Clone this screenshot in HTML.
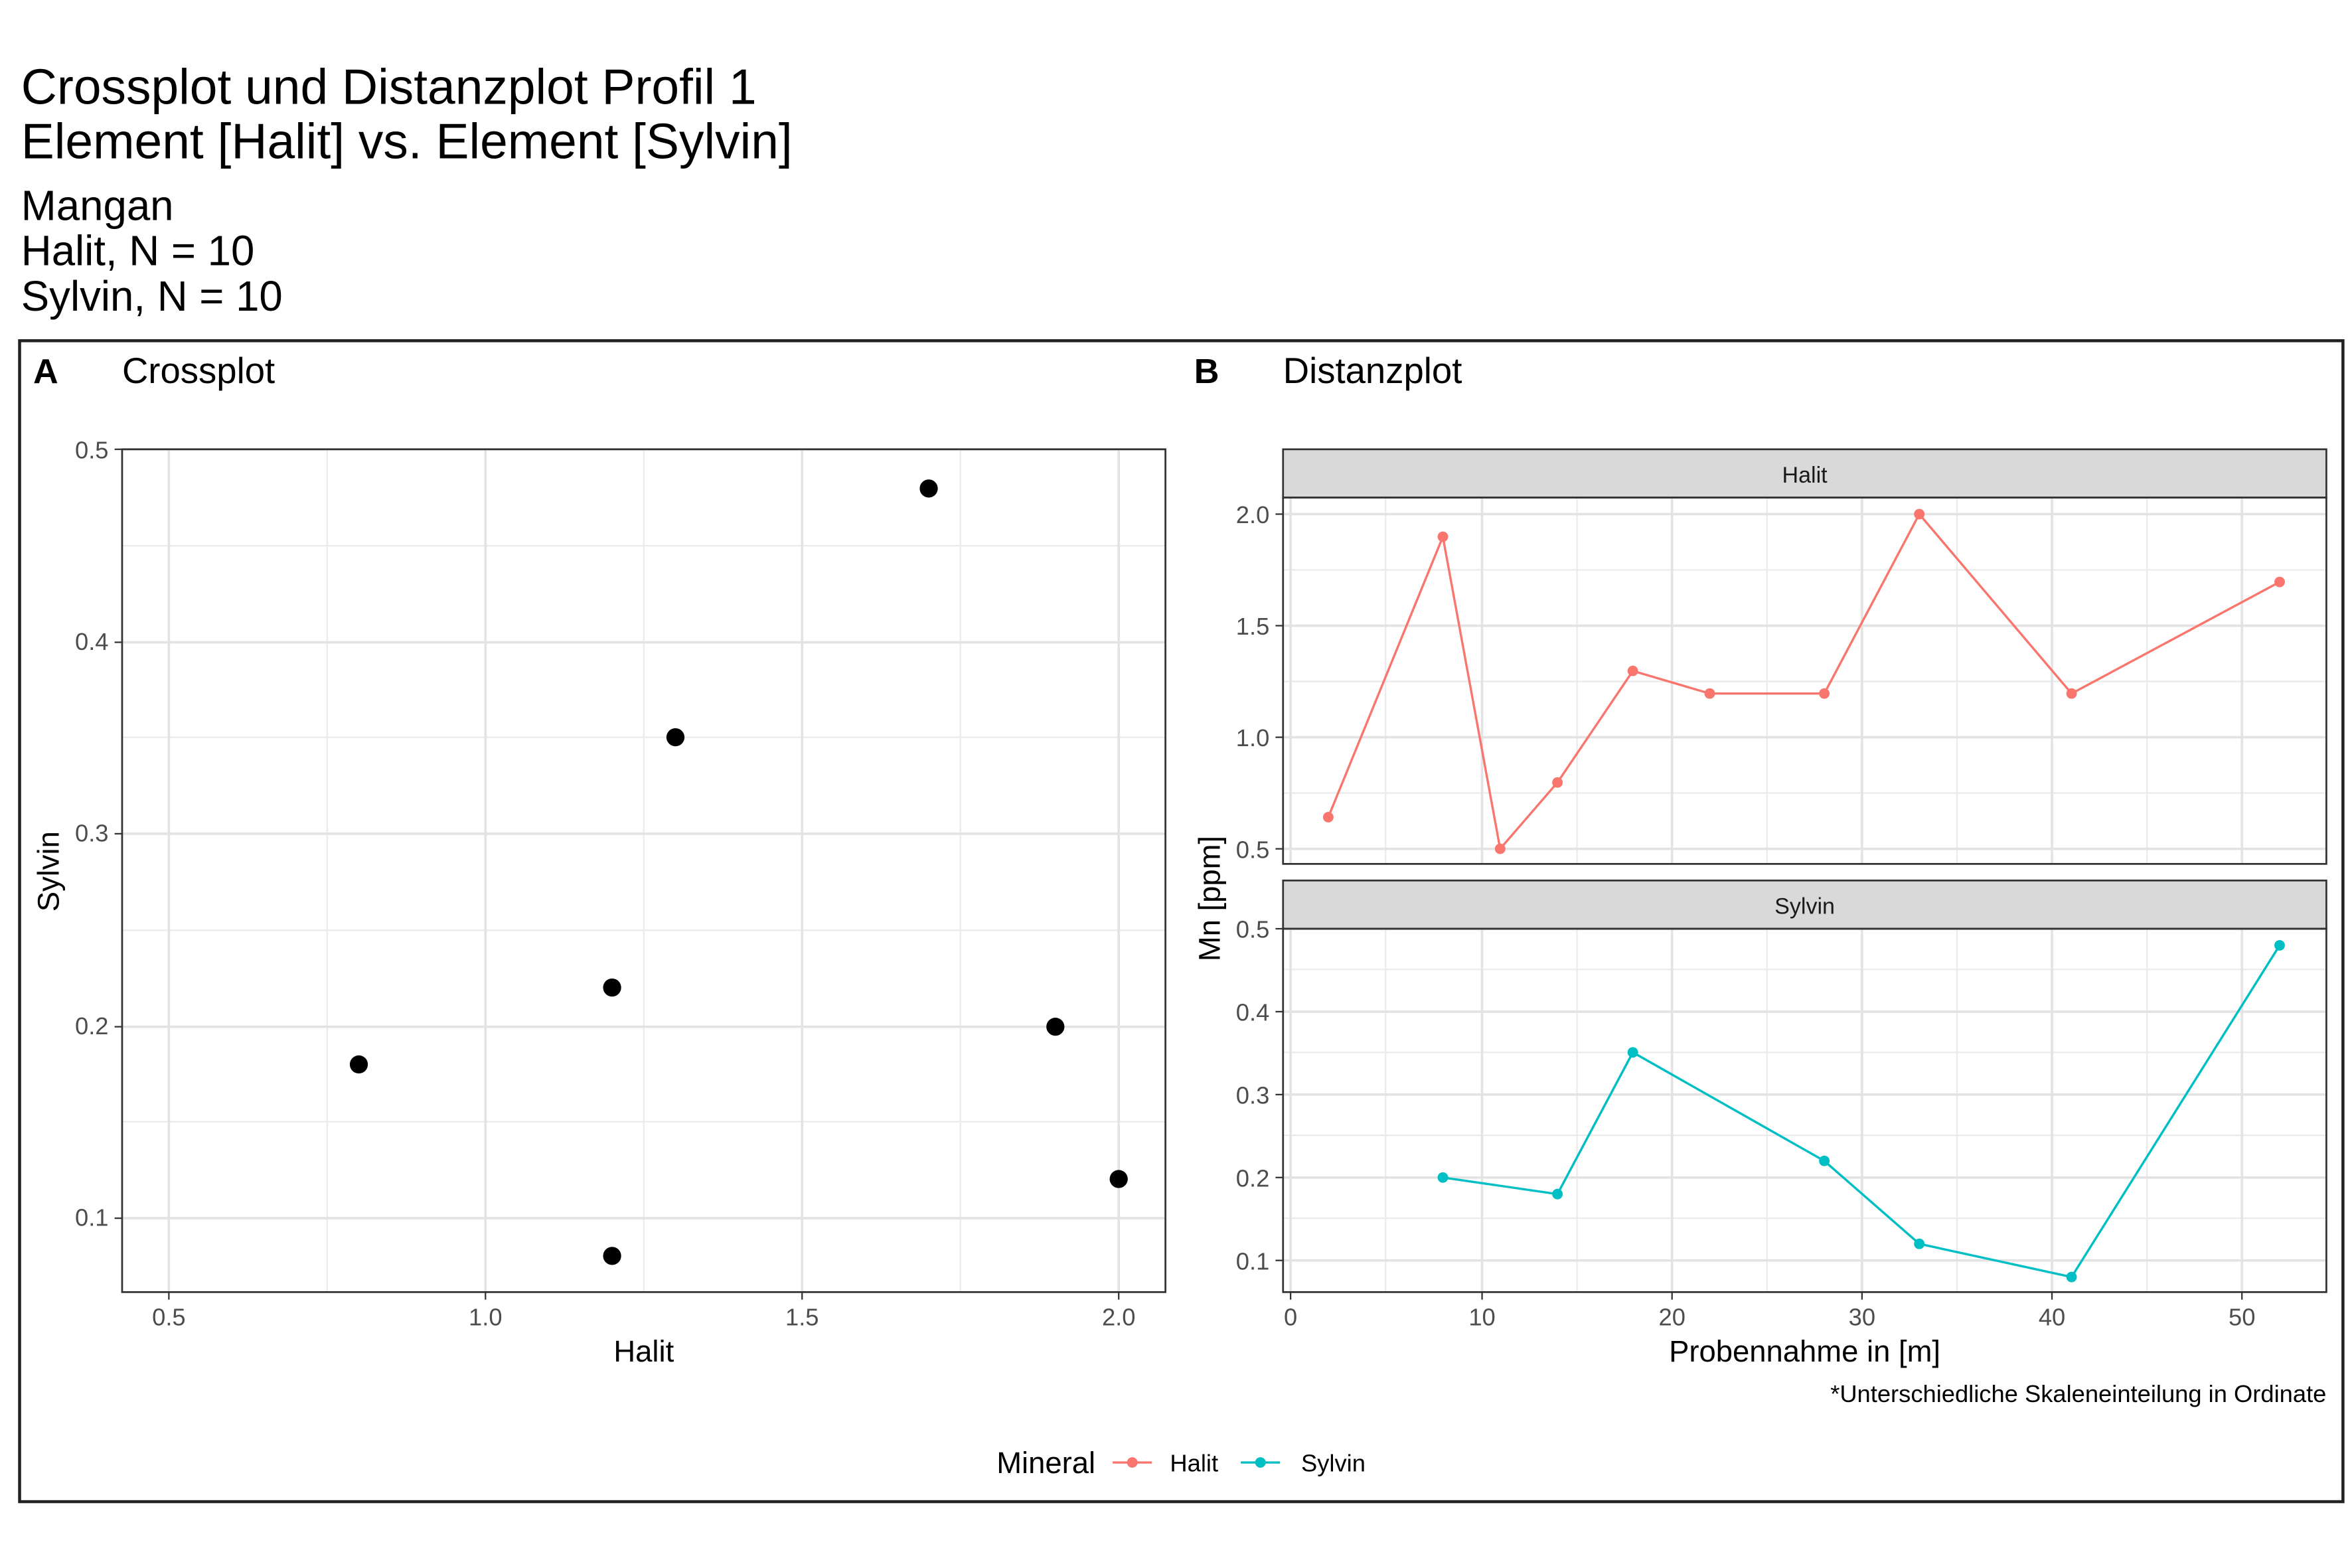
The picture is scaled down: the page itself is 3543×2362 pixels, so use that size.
<!DOCTYPE html>
<html><head><meta charset="utf-8"><style>html,body{margin:0;padding:0;background:#fff}svg{display:block}</style></head>
<body>
<svg xmlns="http://www.w3.org/2000/svg" width="3543" height="2362" viewBox="0 0 1560 1040" font-family="Liberation Sans, sans-serif">
<rect width="1560" height="1040" fill="#fff"/>
<text x="14" y="69" font-size="33">Crossplot und Distanzplot Profil 1</text>
<text x="14" y="105" font-size="33">Element [Halit] vs. Element [Sylvin]</text>
<text x="14" y="146" font-size="28">Mangan</text>
<text x="14" y="176" font-size="28">Halit, N = 10</text>
<text x="14" y="206" font-size="28">Sylvin, N = 10</text>
<rect x="13" y="226" width="1541" height="770" fill="none" stroke="#222" stroke-width="2"/>
<text x="22" y="254" font-size="23" font-weight="bold">A</text>
<text x="81" y="254" font-size="24">Crossplot</text>
<text x="792" y="254" font-size="23" font-weight="bold">B</text>
<text x="851" y="254" font-size="24">Distanzplot</text>
<!-- Crossplot -->
<g stroke="#ebebeb" stroke-width="1">
<line x1="217" y1="298" x2="217" y2="857"/><line x1="427" y1="298" x2="427" y2="857"/><line x1="637" y1="298" x2="637" y2="857"/>
<line x1="81" y1="362" x2="773" y2="362"/><line x1="81" y1="489" x2="773" y2="489"/><line x1="81" y1="617" x2="773" y2="617"/><line x1="81" y1="744" x2="773" y2="744"/>
</g>
<g stroke="#e3e3e3" stroke-width="1.6">
<line x1="112" y1="298" x2="112" y2="857"/><line x1="322" y1="298" x2="322" y2="857"/><line x1="532" y1="298" x2="532" y2="857"/><line x1="742" y1="298" x2="742" y2="857"/>
<line x1="81" y1="298" x2="773" y2="298"/><line x1="81" y1="426" x2="773" y2="426"/><line x1="81" y1="553" x2="773" y2="553"/><line x1="81" y1="681" x2="773" y2="681"/><line x1="81" y1="808" x2="773" y2="808"/>
</g>
<rect x="81" y="298" width="692" height="559" fill="none" stroke="#333" stroke-width="1.2"/>
<g fill="#000">
<circle cx="238" cy="706" r="6"/><circle cx="406" cy="655" r="6"/><circle cx="406" cy="833" r="6"/><circle cx="448" cy="489" r="6"/><circle cx="616" cy="324" r="6"/><circle cx="700" cy="681" r="6"/><circle cx="742" cy="782" r="6"/>
</g>
<g font-size="16" fill="#4d4d4d" text-anchor="end">
<text x="72" y="304">0.5</text><text x="72" y="431">0.4</text><text x="72" y="558">0.3</text><text x="72" y="686">0.2</text><text x="72" y="813">0.1</text>
</g>
<g stroke="#333"><line x1="76" y1="298" x2="81" y2="298"/><line x1="76" y1="426" x2="81" y2="426"/><line x1="76" y1="553" x2="81" y2="553"/><line x1="76" y1="681" x2="81" y2="681"/><line x1="76" y1="808" x2="81" y2="808"/>
<line x1="112" y1="857" x2="112" y2="862"/><line x1="322" y1="857" x2="322" y2="862"/><line x1="532" y1="857" x2="532" y2="862"/><line x1="742" y1="857" x2="742" y2="862"/></g>
<g font-size="16" fill="#4d4d4d" text-anchor="middle">
<text x="112" y="879">0.5</text><text x="322" y="879">1.0</text><text x="532" y="879">1.5</text><text x="742" y="879">2.0</text>
</g>
<text x="427" y="903" font-size="20" text-anchor="middle">Halit</text>
<text transform="translate(39,578) rotate(-90)" font-size="20" text-anchor="middle">Sylvin</text>
<!-- Distanzplot -->
<g stroke="#ebebeb" stroke-width="1">
<line x1="919" y1="330" x2="919" y2="573"/><line x1="1046" y1="330" x2="1046" y2="573"/><line x1="1172" y1="330" x2="1172" y2="573"/><line x1="1298" y1="330" x2="1298" y2="573"/><line x1="1424" y1="330" x2="1424" y2="573"/>
<line x1="851" y1="378" x2="1543" y2="378"/><line x1="851" y1="452" x2="1543" y2="452"/><line x1="851" y1="526" x2="1543" y2="526"/>
<line x1="919" y1="616" x2="919" y2="857"/><line x1="1046" y1="616" x2="1046" y2="857"/><line x1="1172" y1="616" x2="1172" y2="857"/><line x1="1298" y1="616" x2="1298" y2="857"/><line x1="1424" y1="616" x2="1424" y2="857"/>
<line x1="851" y1="643" x2="1543" y2="643"/><line x1="851" y1="698" x2="1543" y2="698"/><line x1="851" y1="753" x2="1543" y2="753"/><line x1="851" y1="808" x2="1543" y2="808"/>
</g>
<g stroke="#e3e3e3" stroke-width="1.6">
<line x1="856" y1="330" x2="856" y2="573"/><line x1="983" y1="330" x2="983" y2="573"/><line x1="1109" y1="330" x2="1109" y2="573"/><line x1="1235" y1="330" x2="1235" y2="573"/><line x1="1361" y1="330" x2="1361" y2="573"/><line x1="1487" y1="330" x2="1487" y2="573"/>
<line x1="851" y1="341" x2="1543" y2="341"/><line x1="851" y1="415" x2="1543" y2="415"/><line x1="851" y1="489" x2="1543" y2="489"/><line x1="851" y1="563" x2="1543" y2="563"/>
<line x1="856" y1="616" x2="856" y2="857"/><line x1="983" y1="616" x2="983" y2="857"/><line x1="1109" y1="616" x2="1109" y2="857"/><line x1="1235" y1="616" x2="1235" y2="857"/><line x1="1361" y1="616" x2="1361" y2="857"/><line x1="1487" y1="616" x2="1487" y2="857"/>
<line x1="851" y1="616" x2="1543" y2="616"/><line x1="851" y1="671" x2="1543" y2="671"/><line x1="851" y1="726" x2="1543" y2="726"/><line x1="851" y1="781" x2="1543" y2="781"/><line x1="851" y1="836" x2="1543" y2="836"/>
</g>
<rect x="851" y="298" width="692" height="32" fill="#d9d9d9" stroke="#333" stroke-width="1.2"/>
<text x="1197" y="320" font-size="15" text-anchor="middle" fill="#1a1a1a">Halit</text>
<rect x="851" y="330" width="692" height="243" fill="none" stroke="#333" stroke-width="1.2"/>
<rect x="851" y="584" width="692" height="32" fill="#d9d9d9" stroke="#333" stroke-width="1.2"/>
<text x="1197" y="606" font-size="15" text-anchor="middle" fill="#1a1a1a">Sylvin</text>
<rect x="851" y="616" width="692" height="241" fill="none" stroke="#333" stroke-width="1.2"/>
<polyline fill="none" stroke="#F8766D" stroke-width="1.5" points="881,542 957,356 995,563 1033,519 1083,445 1134,460 1210,460 1273,341 1374,460 1512,386"/>
<g fill="#F8766D"><circle cx="881" cy="542" r="3.5"/><circle cx="957" cy="356" r="3.5"/><circle cx="995" cy="563" r="3.5"/><circle cx="1033" cy="519" r="3.5"/><circle cx="1083" cy="445" r="3.5"/><circle cx="1134" cy="460" r="3.5"/><circle cx="1210" cy="460" r="3.5"/><circle cx="1273" cy="341" r="3.5"/><circle cx="1374" cy="460" r="3.5"/><circle cx="1512" cy="386" r="3.5"/></g>
<polyline fill="none" stroke="#00BFC4" stroke-width="1.5" points="957,781 1033,792 1083,698 1210,770 1273,825 1374,847 1512,627"/>
<g fill="#00BFC4"><circle cx="957" cy="781" r="3.5"/><circle cx="1033" cy="792" r="3.5"/><circle cx="1083" cy="698" r="3.5"/><circle cx="1210" cy="770" r="3.5"/><circle cx="1273" cy="825" r="3.5"/><circle cx="1374" cy="847" r="3.5"/><circle cx="1512" cy="627" r="3.5"/></g>
<g font-size="16" fill="#4d4d4d" text-anchor="end">
<text x="842" y="347">2.0</text><text x="842" y="421">1.5</text><text x="842" y="495">1.0</text><text x="842" y="569">0.5</text>
<text x="842" y="622">0.5</text><text x="842" y="677">0.4</text><text x="842" y="732">0.3</text><text x="842" y="787">0.2</text><text x="842" y="842">0.1</text>
</g>
<g stroke="#333"><line x1="846" y1="341" x2="851" y2="341"/><line x1="846" y1="415" x2="851" y2="415"/><line x1="846" y1="489" x2="851" y2="489"/><line x1="846" y1="563" x2="851" y2="563"/>
<line x1="846" y1="616" x2="851" y2="616"/><line x1="846" y1="671" x2="851" y2="671"/><line x1="846" y1="726" x2="851" y2="726"/><line x1="846" y1="781" x2="851" y2="781"/><line x1="846" y1="836" x2="851" y2="836"/>
<line x1="856" y1="857" x2="856" y2="862"/><line x1="983" y1="857" x2="983" y2="862"/><line x1="1109" y1="857" x2="1109" y2="862"/><line x1="1235" y1="857" x2="1235" y2="862"/><line x1="1361" y1="857" x2="1361" y2="862"/><line x1="1487" y1="857" x2="1487" y2="862"/></g>
<g font-size="16" fill="#4d4d4d" text-anchor="middle">
<text x="856" y="879">0</text><text x="983" y="879">10</text><text x="1109" y="879">20</text><text x="1235" y="879">30</text><text x="1361" y="879">40</text><text x="1487" y="879">50</text>
</g>
<text x="1197" y="903" font-size="20" text-anchor="middle">Probennahme in [m]</text>
<text transform="translate(809,596) rotate(-90)" font-size="20" text-anchor="middle">Mn [ppm]</text>
<text x="1543" y="930" font-size="16" text-anchor="end">*Unterschiedliche Skaleneinteilung in Ordinate</text>
<!-- legend -->
<text x="661" y="977" font-size="20">Mineral</text>
<line x1="738" y1="970" x2="764" y2="970" stroke="#F8766D" stroke-width="1.5"/><circle cx="751" cy="970" r="3.5" fill="#F8766D"/>
<text x="776" y="976" font-size="16">Halit</text>
<line x1="823" y1="970" x2="849" y2="970" stroke="#00BFC4" stroke-width="1.5"/><circle cx="836" cy="970" r="3.5" fill="#00BFC4"/>
<text x="863" y="976" font-size="16">Sylvin</text>
</svg>
</body></html>
